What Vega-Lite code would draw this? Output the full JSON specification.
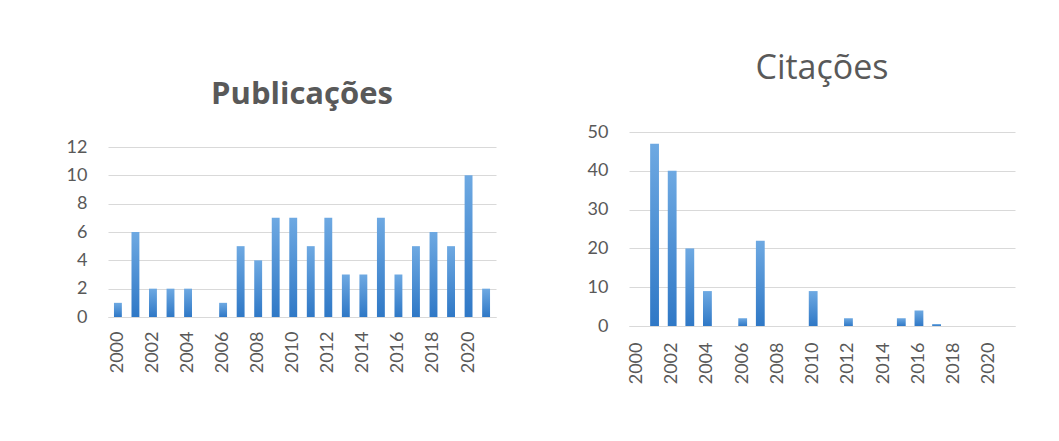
{
  "$schema": "https://vega.github.io/schema/vega-lite/v6.json",
  "background": "white",
  "padding": {"left": 66, "top": 52, "right": 0, "bottom": 0},
  "spacing": 91,
  "config": {
    "font": "Lato",
    "view": {"stroke": null},
    "axis": {
      "labelFont": "Lato",
      "labelFontSize": 18,
      "labelColor": "#595959",
      "ticks": false,
      "title": null,
      "gridColor": "#D9D9D9",
      "domainColor": "#D9D9D9"
    },
    "title": {"font": "Open Sans", "color": "#595959", "fontSize": 31}
  },
  "datasets": {
    "pub": [
      {"year": 2000, "n": 1}, {"year": 2001, "n": 6}, {"year": 2002, "n": 2}, {"year": 2003, "n": 2},
      {"year": 2004, "n": 2}, {"year": 2005, "n": 0}, {"year": 2006, "n": 1}, {"year": 2007, "n": 5},
      {"year": 2008, "n": 4}, {"year": 2009, "n": 7}, {"year": 2010, "n": 7}, {"year": 2011, "n": 5},
      {"year": 2012, "n": 7}, {"year": 2013, "n": 3}, {"year": 2014, "n": 3}, {"year": 2015, "n": 7},
      {"year": 2016, "n": 3}, {"year": 2017, "n": 5}, {"year": 2018, "n": 6}, {"year": 2019, "n": 5},
      {"year": 2020, "n": 10}, {"year": 2021, "n": 2}
    ],
    "cit": [
      {"year": 2000, "n": 0}, {"year": 2001, "n": 47}, {"year": 2002, "n": 40}, {"year": 2003, "n": 20},
      {"year": 2004, "n": 9}, {"year": 2005, "n": 0}, {"year": 2006, "n": 2}, {"year": 2007, "n": 22},
      {"year": 2008, "n": 0}, {"year": 2009, "n": 0}, {"year": 2010, "n": 9}, {"year": 2011, "n": 0},
      {"year": 2012, "n": 2}, {"year": 2013, "n": 0}, {"year": 2014, "n": 0}, {"year": 2015, "n": 2},
      {"year": 2016, "n": 4}, {"year": 2017, "n": 0.5}, {"year": 2018, "n": 0}, {"year": 2019, "n": 0},
      {"year": 2020, "n": 0}, {"year": 2021, "n": 0}
    ]
  },
  "hconcat": [
    {
      "data": {"name": "pub"},
      "width": 388,
      "height": 185,
      "title": {"text": "Publicações", "fontWeight": "bold", "offset": 21},
      "mark": {
        "type": "bar",
        "color": {
          "gradient": "linear", "x1": 0, "y1": 0, "x2": 0, "y2": 1,
          "stops": [{"offset": 0, "color": "#6EA9E2"}, {"offset": 1, "color": "#2F78C6"}]
        }
      },
      "encoding": {
        "x": {
          "field": "year", "type": "ordinal",
          "scale": {"paddingInner": 0.55, "paddingOuter": 0.34},
          "axis": {"labelAngle": -90, "labelPadding": 14, "labelExpr": "datum.value % 2 == 0 ? datum.label : ''"}
        },
        "y": {
          "field": "n", "type": "quantitative",
          "scale": {"domain": [0, 12], "range": [185, 15]},
          "axis": {"values": [0, 2, 4, 6, 8, 10, 12], "domain": false, "labelPadding": 21}
        }
      }
    },
    {
      "data": {"name": "cit"},
      "width": 386,
      "height": 194,
      "title": {"text": "Citações", "fontSize": 34, "fontWeight": "normal", "offset": 37},
      "mark": {
        "type": "bar",
        "color": {
          "gradient": "linear", "x1": 0, "y1": 0, "x2": 0, "y2": 1,
          "stops": [{"offset": 0, "color": "#6EA9E2"}, {"offset": 1, "color": "#2F78C6"}]
        }
      },
      "encoding": {
        "x": {
          "field": "year", "type": "ordinal",
          "scale": {"paddingInner": 0.5, "paddingOuter": 0.2},
          "axis": {"labelAngle": -90, "labelPadding": 16, "labelExpr": "datum.value % 2 == 0 ? datum.label : ''"}
        },
        "y": {
          "field": "n", "type": "quantitative",
          "scale": {"domain": [0, 50]},
          "axis": {"values": [0, 10, 20, 30, 40, 50], "domain": false, "labelPadding": 21}
        }
      }
    }
  ]
}
